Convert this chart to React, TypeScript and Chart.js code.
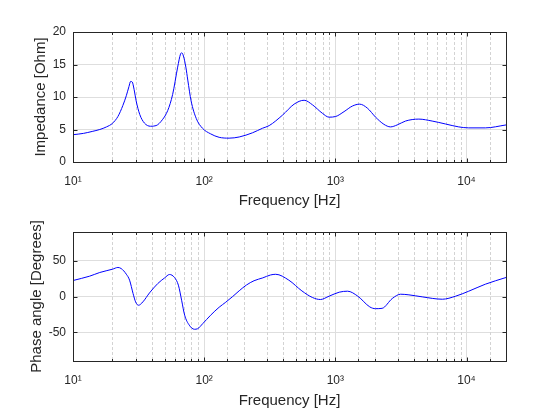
import React, { useEffect, useRef } from "react";
import { Chart, registerables } from "chart.js";

Chart.register(...registerables);

// ---------- data ----------
const IMP_FREQ = [
  10, 12, 14, 16, 18, 20, 22, 24, 25.5, 26.7, 27.5, 28.3, 29.2, 30.3, 32.3, 35, 39, 43, 48, 52.7,
  57.5, 62.8, 66, 67.5, 69.5, 72.5, 75, 79.5, 87, 97, 112, 130, 155, 185, 234, 279, 313, 395, 485,
  578, 669, 796, 895, 1006, 1165, 1347, 1533, 1752, 2027, 2345, 2634, 2959, 3426, 4331, 5470, 6909,
  8730, 10400, 13930, 20000,
];
const IMP_OHM = [
  4.2, 4.4, 4.7, 5.0, 5.4, 5.95, 7.0, 8.7, 10.2, 11.6, 12.4, 12.3, 11.2, 9.4, 7.3, 6.0, 5.5, 5.6, 6.5, 7.9,
  10.4, 14.6, 16.6, 16.8, 16.3, 14.6, 12.6, 9.4, 6.7, 5.2, 4.33, 3.8, 3.67, 3.85, 4.5, 5.2, 5.6, 7.2, 8.9,
  9.5, 8.8, 7.5, 6.9, 7.0, 7.75, 8.6, 8.9, 8.3, 6.9, 5.8, 5.4, 5.7, 6.3, 6.6, 6.3, 5.85,
  5.4, 5.25, 5.25, 5.7,
];

const PHASE_FREQ = [
  10, 13.4, 16, 20, 22, 23.3, 25.5, 27, 28.7, 30, 31.6, 34.1, 38.3, 44.3, 50, 54.4, 59.4, 63.6, 67.3, 71,
  77, 84.2, 89, 97.6, 112, 130, 146, 165, 185, 210, 240, 280, 320, 351, 442, 556, 669, 770, 895, 1070,
  1239, 1484, 1830, 2027, 2272, 2716, 3148, 3638, 4594, 6539, 8252, 10400, 13930, 20000,
];
const PHASE_DEG = [
  22.3, 28.4, 33.5, 38.1, 40.5, 39, 31.1, 22.8, 4.2, -7.5, -12.2, -7.5, 5, 18.1, 26, 30.7, 26.5, 15.8, -5.2, -26.1,
  -40, -45.7, -45, -37.8, -26.1, -15, -8, 0, 8, 16, 22, 26, 30, 31, 22.8, 7.8, -1.4, -4.2, 0.4, 6,
  7.4, 0.4, -14.5, -17, -16.5, -2.8, 3.2, 2.3, -0.5, -3.8, 0.4, 7.4, 17.2, 26.5,
];

const X_MIN = 10;
const X_MAX = 20000;
const X_TICK_LABELS: Record<string, string> = { "10": "10¹", "100": "10²", "1000": "10³", "10000": "10⁴" };
const IMP_TICKS = [0, 5, 10, 15, 20];
const PHASE_TICKS = [-50, 0, 50];

const X_TITLE = "Frequency [Hz]";
const IMP_TITLE = "Impedance [Ohm]";
const PHASE_TITLE = "Phase angle [Degrees]";

// ---------- styling ----------
const FONT = "'Liberation Sans', Arial, Helvetica, sans-serif";
const TEXT = "#262626";
const AXIS = "#262626";
const MAJOR_GRID = "#dedede";
const MINOR_GRID = "#d3d3d3";

const isDecade = (v: number) => Math.abs(Math.log10(v) - Math.round(Math.log10(v))) < 1e-9;

const framePlugin = {
  id: "matlabFrame",
  beforeDatasetsDraw(chart: any) {
    const { ctx, chartArea: a, scales } = chart;
    const x = scales.x;
    ctx.save();
    ctx.strokeStyle = MINOR_GRID;
    ctx.lineWidth = 1;
    ctx.setLineDash([3, 2]);
    ctx.beginPath();
    x.ticks.forEach((t: any) => {
      if (isDecade(t.value)) return;
      const px = Math.round(x.getPixelForValue(t.value)) + 0.5;
      ctx.moveTo(px, a.top);
      ctx.lineTo(px, a.bottom);
    });
    ctx.stroke();
    ctx.restore();
  },
  afterDraw(chart: any) {
    const { ctx, chartArea: a, scales } = chart;
    const x = scales.x;
    const y = scales.y;
    const L = Math.round(a.left) + 0.5;
    const R = Math.round(a.right) + 0.5;
    const T = Math.round(a.top) + 0.5;
    const B = Math.round(a.bottom) + 0.5;
    ctx.save();
    ctx.strokeStyle = AXIS;
    ctx.lineWidth = 1;
    ctx.setLineDash([]);
    ctx.beginPath();
    x.ticks.forEach((t: any) => {
      const px = Math.round(x.getPixelForValue(t.value)) + 0.5;
      const len = isDecade(t.value) ? 4 : 2.5;
      ctx.moveTo(px, B);
      ctx.lineTo(px, B - len);
      ctx.moveTo(px, T);
      ctx.lineTo(px, T + len);
    });
    y.ticks.forEach((t: any) => {
      const py = Math.round(y.getPixelForValue(t.value)) + 0.5;
      ctx.moveTo(L, py);
      ctx.lineTo(L + 4, py);
      ctx.moveTo(R, py);
      ctx.lineTo(R - 4, py);
    });
    ctx.stroke();
    ctx.strokeRect(L, T, R - L, B - T);
    ctx.restore();
  },
};

type PlotProps = {
  freq: number[];
  values: number[];
  yMin: number;
  yMax: number;
  yTicks: number[];
  yTitle: string;
  padTop: number;
  padBottom: number;
  xAxisHeight: number;
  yTitleOffset: number;
};

function Plot(p: PlotProps) {
  const ref = useRef<HTMLCanvasElement | null>(null);
  useEffect(() => {
    if (!ref.current) return;
    const data = p.freq.map((f, i) => ({ x: f, y: p.values[i] }));
    const chart = new Chart(ref.current, {
      type: "line",
      data: {
        datasets: [
          {
            data,
            borderColor: "#0000ff",
            borderWidth: 1,
            pointRadius: 0,
            fill: false,
            cubicInterpolationMode: "monotone",
          },
        ],
      },
      options: {
        responsive: false,
        animation: false,
        events: [],
        layout: { padding: { top: p.padTop, right: 54, bottom: p.padBottom, left: 0 } },
        plugins: { legend: { display: false }, tooltip: { enabled: false } },
        scales: {
          x: {
            type: "logarithmic",
            min: X_MIN,
            max: X_MAX,
            afterFit: (s: any) => {
              s.height = p.xAxisHeight;
            },
            grid: {
              drawTicks: false,
              color: (c: any) => (c.tick && isDecade(c.tick.value) ? MAJOR_GRID : "rgba(0,0,0,0)"),
              lineWidth: 1,
            },
            border: { display: false },
            ticks: {
              autoSkip: false,
              maxRotation: 0,
              padding: 12,
              color: TEXT,
              font: { family: FONT, size: 12 },
              callback: (v: any) => X_TICK_LABELS[String(v)] ?? "",
            },
            title: {
              display: true,
              text: X_TITLE,
              color: TEXT,
              font: { family: FONT, size: 15 },
              padding: { top: 0, bottom: 0 },
            },
          },
          y: {
            type: "linear",
            min: p.yMin,
            max: p.yMax,
            afterBuildTicks: (s: any) => {
              s.ticks = p.yTicks.map((v) => ({ value: v }));
            },
            afterFit: (s: any) => {
              s.width = 73;
            },
            grid: { drawTicks: false, color: MAJOR_GRID, lineWidth: 1 },
            border: { display: false },
            ticks: {
              padding: 7,
              color: TEXT,
              font: { family: FONT, size: 12 },
              callback: (v: any) => String(v),
            },
            title: {
              display: true,
              text: p.yTitle,
              color: TEXT,
              font: { family: FONT, size: 15 },
              padding: { top: p.yTitleOffset, bottom: 0 },
            },
          },
        },
      } as any,
      plugins: [framePlugin],
    });
    return () => chart.destroy();
  }, []);
  return <canvas ref={ref} width={560} height={210} style={{ display: "block" }} />;
}

export default function App() {
  return (
    <div style={{ position: "absolute", left: 0, top: 0, width: 560, height: 420, background: "#ffffff" }}>
      <Plot
        freq={IMP_FREQ}
        values={IMP_OHM}
        yMin={0}
        yMax={20}
        yTicks={IMP_TICKS}
        yTitle={IMP_TITLE}
        padTop={32}
        padBottom={0}
        xAxisHeight={48}
        yTitleOffset={32}
      />
      <Plot
        freq={PHASE_FREQ}
        values={PHASE_DEG}
        yMin={-90}
        yMax={90}
        yTicks={PHASE_TICKS}
        yTitle={PHASE_TITLE}
        padTop={22}
        padBottom={10}
        xAxisHeight={49}
        yTitleOffset={28}
      />
    </div>
  );
}
